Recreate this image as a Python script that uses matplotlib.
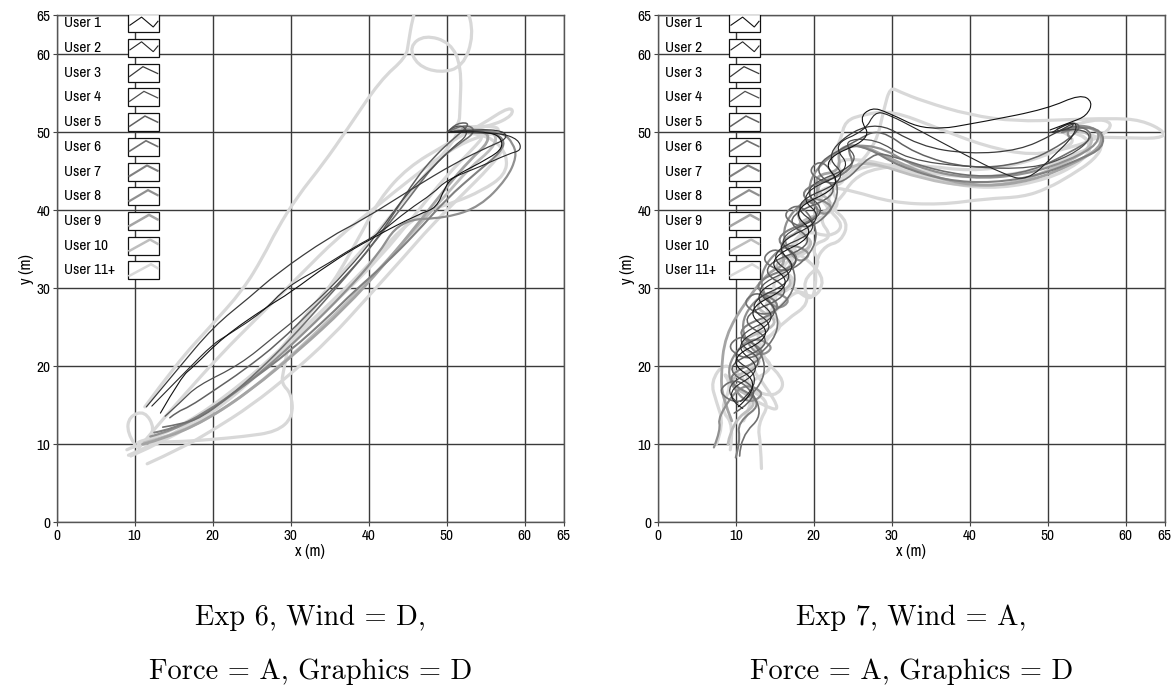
import numpy as np
import matplotlib
matplotlib.use("Agg")
import matplotlib.pyplot as plt
from matplotlib.path import Path
from matplotlib.patches import PathPatch, Rectangle
from matplotlib.lines import Line2D

# ---- Exp 6 trajectories (x, y in metres) ----
e6_u1 = [(13.3, 14.0), (16.0, 18.7), (17.5, 19.9), (21.4, 23.8), (26.9, 27.6), (29.9, 29.4), (35.0, 33.2),
         (40.5, 36.5), (46.6, 39.6), (48.7, 40.3), (49.8, 43.0), (50.8, 44.3), (55.5, 46.7), (57.2, 48.0),
         (56.9, 49.4), (55.5, 50.0), (52.5, 50.1), (50.2, 50.0)]
e6_u2 = [(12.2, 14.9), (16.7, 19.5), (20.1, 22.9), (21.6, 23.8), (26.5, 27.0), (29.5, 30.2), (34.2, 32.8),
         (38.0, 35.2), (41.5, 37.1), (45.0, 40.0), (48.3, 42.2), (50.0, 43.9), (54.3, 45.6), (58.1, 47.3),
         (59.6, 47.7), (59.2, 49.1), (56.9, 49.9), (54.3, 49.9), (50.4, 50.0)]
e6_u3 = [(11.5, 14.8), (15.4, 19.5), (20.1, 25.1), (24.8, 28.9), (28.2, 31.9), (35.0, 36.6), (39.3, 38.8),
         (45.3, 42.6), (51.3, 46.2), (55.5, 48.2), (57.8, 49.2), (57.3, 50.2), (54.0, 50.4), (50.5, 50.1)]
e6_u4 = [(13.9, 13.6), (16.0, 15.5), (18.0, 17.5), (23.5, 20.2), (28.0, 23.9), (32.6, 27.6), (37.2, 32.2),
         (41.3, 37.2), (45.0, 42.3), (48.2, 45.5), (50.9, 48.2), (52.7, 49.6), (52.3, 50.8), (50.9, 50.8),
         (50.0, 50.0)]
e6_u5 = [(14.5, 13.4), (15.5, 14.2), (17.0, 14.8), (20.0, 16.8), (24.0, 19.5), (28.5, 23.0), (33.0, 27.5),
         (37.0, 31.5), (40.5, 35.5), (43.5, 40.0), (46.0, 44.0), (48.5, 47.0), (51.0, 49.3), (52.8, 50.8),
         (52.5, 51.3), (51.0, 51.0), (50.3, 50.2)]
e6_u6 = [(13.6, 12.2), (16.0, 12.6), (18.5, 13.4), (22.0, 16.0), (26.0, 19.5), (30.0, 23.5), (34.0, 28.0),
         (38.0, 32.5), (42.0, 37.5), (45.5, 42.0), (48.5, 46.0), (51.5, 48.5), (53.5, 49.8), (53.3, 50.8),
         (51.5, 50.8), (50.3, 50.1)]
e6_u7 = [(12.5, 11.5), (15.0, 12.0), (19.0, 14.0), (24.0, 17.5), (30.0, 22.0), (35.0, 26.5), (38.0, 29.5),
         (42.0, 33.0), (46.0, 37.0), (50.0, 41.5), (54.0, 45.0), (57.0, 47.5), (57.5, 49.2), (55.0, 50.3),
         (51.5, 50.1)]
e6_u8 = [(12.0, 11.0), (15.0, 11.8), (20.0, 14.5), (26.0, 19.0), (32.0, 24.5), (37.0, 29.5), (41.0, 34.0),
         (44.0, 38.8), (50.0, 39.0), (54.3, 40.5), (57.7, 44.0), (59.0, 46.9), (58.5, 48.6), (57.3, 49.9),
         (54.0, 50.3), (51.0, 50.2)]
e6_u9 = [(11.0, 10.0), (14.0, 10.8), (19.0, 13.0), (25.0, 17.0), (31.0, 22.0), (37.0, 27.5), (42.0, 33.0),
         (46.5, 38.5), (50.0, 43.0), (53.0, 46.5), (55.5, 48.8), (55.0, 50.3), (52.0, 50.4)]
e6_u10 = [(11.2, 10.2), (16.0, 11.5), (22.0, 14.8), (28.0, 19.5), (34.0, 25.0), (40.0, 31.0), (45.0, 36.5),
          (49.5, 41.5), (53.0, 45.5), (56.0, 48.0), (56.5, 49.8), (54.0, 50.5), (51.5, 50.3)]
e6_r1 = [(11.3, 14.8), (15.4, 20.4), (19.7, 25.1), (23.9, 29.8), (26.5, 34.1), (28.2, 37.5), (30.8, 41.7),
         (34.2, 46.0), (37.2, 50.3), (41.5, 56.7), (44.8, 59.6), (45.1, 61.5), (45.6, 64.5), (46.5, 67.5),
         (49.5, 68.5), (52.5, 66.5), (53.5, 62.5), (52.1, 58.4), (49.1, 57.6), (46.2, 58.6), (45.2, 61.0),
         (47.2, 62.5), (50.5, 61.5), (51.9, 58.4), (51.7, 52.8), (51.6, 51.0), (50.6, 50.2)]
e6_r2 = [(9.0, 9.3), (11.1, 10.3), (15.0, 10.3), (19.7, 10.6), (24.0, 11.0), (28.2, 11.6), (30.3, 13.5),
         (30.1, 16.5), (28.8, 17.8), (29.1, 19.5), (29.9, 23.8), (33.0, 28.0), (37.0, 32.5), (41.0, 37.0),
         (45.0, 42.0), (48.5, 46.0), (51.0, 49.0), (51.5, 50.5), (50.5, 50.2)]
e6_r3 = [(10.0, 10.0), (9.0, 11.5), (9.3, 13.6), (11.3, 14.3), (12.6, 12.0), (11.5, 10.3), (10.0, 10.2),
         (13.0, 11.0), (18.0, 13.5), (24.0, 18.0), (30.0, 23.0), (36.0, 28.5), (41.5, 34.0), (46.0, 39.5),
         (50.0, 44.5), (53.5, 48.0), (55.0, 49.8), (53.0, 50.3)]
e6_r4 = [(11.6, 7.5), (16.0, 9.5), (20.0, 11.8), (25.0, 15.0), (30.0, 19.0), (35.0, 23.5), (40.0, 29.0),
         (44.5, 34.0), (48.0, 38.0), (52.0, 42.0), (55.5, 45.5), (57.5, 48.0), (56.5, 50.0), (53.0, 50.5),
         (51.0, 50.2)]
e6_r5 = [(9.5, 8.5), (14.0, 10.5), (20.0, 14.0), (26.0, 19.0), (31.0, 25.0), (35.0, 30.0), (38.5, 36.0),
         (41.4, 41.5), (45.0, 45.5), (50.0, 48.5), (54.5, 51.0), (58.2, 53.4), (58.6, 52.2), (55.5, 50.7),
         (52.0, 50.2)]
e6_r6 = [(10.5, 9.5), (13.0, 12.5), (16.5, 16.5), (21.0, 21.5), (26.0, 26.5), (31.0, 31.5), (36.0, 36.5),
         (41.0, 40.5), (46.0, 44.5), (50.0, 47.5), (54.0, 49.5), (57.0, 50.0), (56.0, 51.0), (52.0, 50.6)]
e6_r7 = [(9.2, 8.6), (12.0, 9.8), (17.0, 12.5), (23.0, 17.0), (29.0, 22.5), (35.0, 28.0), (40.5, 33.5),
         (44.0, 37.5), (47.5, 40.0), (51.0, 41.0), (54.5, 42.5), (57.5, 44.5), (57.8, 47.0), (56.0, 49.2),
         (53.0, 50.0), (50.8, 50.1)]

# ---- Exp 7 trajectories ----
e7_u1 = [(10.3, 14.8), (13.6, 17.6), (8.6, 20.8), (15.1, 24.0), (10.9, 27.2), (17.6, 30.4), (13.6, 33.6),
         (20.6, 36.8), (16.8, 40.0), (23.9, 43.2), (20.8, 46.4), (27.5, 49.2), (25.8, 51.8), (27.4, 53.2),
         (29.4, 52.6), (34.5, 50.1), (42.0, 51.4), (49.9, 53.0), (54.2, 54.9), (55.8, 53.9), (55.0, 52.1),
         (53.0, 51.3), (50.3, 50.3)]
e7_u2 = [(10.9, 14.6), (8.0, 16.4), (13.8, 19.6), (9.3, 22.8), (15.8, 26.0), (11.7, 29.2), (18.4, 32.4),
         (14.6, 35.6), (21.6, 38.8), (17.7, 42.0), (25.1, 45.2), (22.3, 48.4), (26.6, 50.2), (27.8, 52.6),
         (29.4, 52.4), (34.0, 50.0), (39.6, 47.0), (44.0, 44.8), (47.3, 43.7), (50.7, 46.9), (53.4, 49.6),
         (53.8, 51.3), (52.2, 51.0), (50.6, 50.0)]
e7_u3 = [(10.6, 15.5), (13.9, 18.4), (8.5, 21.6), (15.7, 24.8), (10.9, 28.0), (18.2, 31.2), (13.7, 34.4),
         (21.3, 37.6), (16.8, 40.8), (24.7, 44.0), (21.1, 47.2), (27.5, 51.8), (33.6, 48.2), (40.0, 47.2),
         (46.4, 47.7), (50.7, 49.7), (53.6, 51.4), (52.8, 50.3), (50.3, 50.0)]
e7_u4 = [(10.3, 15.3), (7.8, 17.2), (14.3, 20.4), (9.2, 23.6), (16.4, 26.8), (11.7, 30.0), (19.1, 33.2),
         (14.7, 36.4), (22.2, 39.6), (18.0, 42.8), (26.2, 46.0), (23.5, 49.0), (28.0, 49.2), (32.0, 46.5),
         (40.0, 45.5), (48.0, 45.3), (53.0, 47.0), (55.8, 49.3), (54.2, 50.6), (51.2, 50.2)]
e7_u5 = [(9.8, 14.0), (14.1, 16.6), (7.8, 19.8), (15.4, 23.0), (9.8, 26.2), (17.9, 29.4), (12.4, 32.6),
         (20.8, 35.8), (15.6, 39.0), (24.0, 42.2), (19.3, 45.4), (25.5, 49.0), (28.5, 50.5), (33.0, 47.2),
         (40.0, 45.3), (47.0, 46.0), (52.0, 48.5), (54.5, 50.8), (52.8, 51.4), (51.2, 50.4)]
e7_u6 = [(10.5, 8.5), (10.6, 11.0), (13.8, 14.0), (10.55, 18.8), (7.3, 16.8), (10.9, 14.8), (14.5, 19.6),
         (11.4, 24.4), (8.5, 22.4), (12.3, 20.4), (16.2, 25.2), (13.3, 30.0), (10.5, 28.0), (14.4, 26.0),
         (18.4, 30.8), (15.6, 35.6), (12.9, 33.6), (17.0, 31.6), (21.1, 36.4), (18.4, 41.2), (15.6, 39.2),
         (19.7, 37.2), (23.8, 42.0), (21.3, 46.8), (18.9, 44.8), (23.3, 42.8), (27.5, 47.4), (30.0, 47.0),
         (36.0, 45.0), (42.0, 44.2), (48.0, 45.0), (53.0, 47.5), (55.8, 49.2), (55.0, 50.6), (52.5, 50.8),
         (51.3, 50.0)]
e7_u7 = [(10.0, 8.3), (10.6, 10.5), (10.2, 12.8), (13.8, 15.5), (7.8, 18.5), (15.0, 21.5), (9.0, 24.5),
         (17.0, 27.5), (11.2, 30.5), (19.4, 33.5), (14.0, 36.5), (22.0, 39.5), (17.2, 42.5), (25.6, 45.0),
         (24.0, 48.5), (27.0, 48.0), (31.0, 45.6), (37.0, 43.8), (43.0, 43.5), (49.0, 44.5), (54.0, 46.5),
         (57.2, 48.0), (57.0, 50.3), (54.0, 50.8), (51.8, 50.0)]
e7_u8 = [(7.2, 9.6), (8.1, 11.9), (7.7, 13.5), (10.8, 18.0), (14.0, 16.5), (11.2, 15.0), (8.4, 19.5),
         (11.7, 24.0), (15.2, 22.5), (12.7, 21.0), (10.2, 25.5), (13.8, 30.0), (17.4, 28.5), (14.9, 27.0),
         (12.6, 31.5), (16.3, 36.0), (20.0, 34.5), (17.8, 33.0), (15.5, 37.5), (19.2, 42.0), (22.9, 40.5),
         (20.8, 39.0), (18.8, 43.5), (23.0, 48.0), (28.0, 48.5), (33.0, 45.5), (40.0, 44.0), (47.0, 44.5),
         (53.0, 46.5), (56.5, 48.5), (56.5, 50.5), (53.5, 51.0), (52.2, 49.8), (53.0, 49.2)]
e7_u9 = [(9.5, 13.0), (8.3, 16.0), (8.1, 18.8), (8.6, 23.9), (11.4, 28.5), (14.3, 32.2), (16.5, 33.0),
         (15.5, 36.0), (18.8, 37.5), (17.5, 40.5), (20.8, 41.5), (20.0, 44.5), (23.5, 45.0), (23.0, 48.0),
         (26.0, 48.5), (30.0, 46.5), (36.0, 44.0), (42.0, 43.0), (48.0, 43.8), (53.0, 45.8), (56.8, 48.0),
         (57.0, 50.0), (54.0, 51.0), (52.0, 50.0)]
e7_u10 = [(9.0, 10.0), (9.5, 13.0), (13.4, 15.5), (8.0, 18.0), (14.4, 20.5), (9.4, 23.0), (16.4, 25.5),
          (11.4, 28.0), (18.4, 30.5), (13.8, 33.0), (21.0, 35.5), (16.6, 38.0), (23.4, 40.5), (19.4, 43.0),
          (25.5, 46.0), (28.0, 46.0), (34.0, 44.0), (40.0, 43.0), (46.0, 43.5), (51.0, 45.5), (55.0, 47.5),
          (56.0, 49.5), (53.5, 50.5), (51.5, 50.0)]
e7_r1 = [(13.3, 6.9), (13.2, 10.0), (12.8, 12.5), (14.5, 15.5), (10.8, 17.5), (15.5, 20.0), (11.3, 22.5),
         (16.8, 25.0), (12.7, 28.0), (18.4, 30.5), (15.2, 33.0), (20.4, 35.0), (17.2, 38.0), (22.8, 39.5),
         (19.8, 42.5), (24.6, 43.5), (22.4, 46.5), (27.0, 46.5), (32.0, 45.0), (38.0, 43.2), (44.0, 42.8),
         (50.0, 44.0), (54.0, 46.0), (55.8, 48.0), (54.5, 49.8), (52.0, 50.2)]
e7_r2 = [(9.3, 9.3), (9.8, 12.5), (8.0, 14.5), (9.5, 17.5), (8.2, 19.5), (11.0, 16.5), (13.5, 15.0),
         (15.8, 14.2), (13.8, 17.5), (11.8, 20.0), (13.5, 23.0), (16.5, 26.0), (19.5, 28.0), (18.5, 31.0),
         (21.0, 33.0), (19.5, 35.5), (22.5, 36.5), (20.5, 39.0), (23.5, 40.5), (22.0, 43.0), (25.0, 45.0),
         (28.0, 48.5), (29.0, 53.0), (29.8, 55.8), (31.0, 55.2), (34.0, 54.0), (40.0, 52.2), (46.0, 51.4),
         (52.0, 51.6), (58.0, 51.8), (62.0, 51.6), (65.2, 50.0), (64.4, 49.2), (60.0, 49.3), (55.5, 49.4)]
e7_r3 = [(7.5, 10.0), (8.5, 12.5), (7.5, 15.5), (6.8, 18.0), (8.5, 20.5), (10.5, 19.0), (12.0, 17.0),
         (15.0, 16.0), (16.5, 18.0), (13.5, 21.0), (12.5, 24.5), (15.5, 27.5), (18.0, 30.0), (20.0, 28.5),
         (21.5, 31.0), (19.5, 33.5), (17.0, 35.0), (19.0, 37.5), (22.0, 36.5), (24.0, 38.0), (21.5, 40.5),
         (22.5, 43.0), (25.5, 45.5), (30.0, 46.0), (36.0, 44.5), (42.0, 44.2), (48.0, 45.0), (53.0, 47.0),
         (56.0, 48.2), (54.5, 49.5)]
e7_r4 = [(11.0, 13.0), (12.5, 16.0), (11.0, 19.0), (13.5, 22.0), (12.5, 25.0), (15.5, 28.0), (14.5, 31.0),
         (17.5, 33.0), (17.0, 36.0), (20.0, 38.0), (20.5, 41.0), (22.0, 43.0), (25.0, 42.5), (30.0, 41.0),
         (36.2, 40.7), (42.2, 41.5), (46.8, 41.7), (50.0, 42.8), (53.0, 44.5), (56.0, 46.5), (57.2, 48.5),
         (55.5, 50.0), (53.0, 50.3)]
e7_r5 = [(22.0, 46.0), (23.5, 49.0), (24.0, 51.5), (26.5, 52.3), (30.0, 52.8), (36.0, 50.5), (42.0, 48.2),
         (48.0, 47.0), (53.0, 48.0), (57.0, 49.5), (58.5, 51.2), (56.0, 51.8), (53.0, 50.8)]
e7_r6 = [(17.5, 30.0), (19.5, 28.2), (20.3, 30.0), (20.2, 33.5), (21.5, 35.5), (23.5, 36.0), (24.5, 38.5),
         (22.0, 40.5), (23.5, 41.5), (25.0, 44.0), (28.0, 45.5), (34.0, 45.8), (40.0, 45.0), (46.0, 45.8),
         (51.0, 47.5), (54.0, 49.0), (52.0, 50.0)]

# user number -> trajectory (11 stands for "11+")
exp6_tracks = [(11, e6_r1), (11, e6_r2), (11, e6_r3), (11, e6_r4), (11, e6_r5), (11, e6_r6), (11, e6_r7),
               (10, e6_u10), (9, e6_u9), (8, e6_u8), (7, e6_u7), (6, e6_u6), (5, e6_u5), (4, e6_u4),
               (3, e6_u3), (2, e6_u2), (1, e6_u1)]
exp7_tracks = [(11, e7_r1), (11, e7_r2), (11, e7_r3), (11, e7_r4), (11, e7_r5), (11, e7_r6),
               (10, e7_u10), (9, e7_u9), (8, e7_u8), (7, e7_u7), (6, e7_u6), (5, e7_u5), (4, e7_u4),
               (3, e7_u3), (2, e7_u2), (1, e7_u1)]

user_labels = ["User 1", "User 2", "User 3", "User 4", "User 5", "User 6", "User 7", "User 8",
               "User 9", "User 10", "User 11+"]
ticks = [0, 10, 20, 30, 40, 50, 60, 65]
captions = [("Exp 6, Wind = D,", "Force = A, Graphics = D"),
            ("Exp 7, Wind = A,", "Force = A, Graphics = D")]

colors = ['#111111', '#262626', '#3b3b3b', '#4f4f4f', '#616161', '#707070',
          '#808080', '#909090', '#a4a4a4', '#bebebe', '#d8d8d8']
widths = [0.8, 0.8, 0.9, 0.9, 1.1, 1.2, 1.5, 1.6, 2.0, 2.0, 2.3]

plt.rcParams['font.family'] = ['Archivo Narrow', 'Liberation Sans', 'DejaVu Sans']


def smooth(pts):
    # quadratic B-spline through the recorded positions
    p = np.asarray(pts, float)
    verts, codes = [p[0]], [Path.MOVETO]
    n = len(p)
    for i in range(1, n - 1):
        end = p[n - 1] if i == n - 2 else (p[i] + p[i + 1]) / 2
        verts += [p[i], end]
        codes += [Path.CURVE3, Path.CURVE3]
    return Path(verts, codes)


def draw_legend(ax):
    top, step = 0.984, 0.0487
    bx, bw, bh = 0.140, 0.0623, 0.0355
    for i, lab in enumerate(user_labels):
        yc = top - i * step
        ax.text(0.0145, yc, lab, transform=ax.transAxes, fontsize=11,
                va='center', ha='left', zorder=6)
        ax.add_patch(Rectangle((bx, yc - bh / 2), bw, bh, transform=ax.transAxes,
                               facecolor='white', edgecolor='#111111', lw=0.9, zorder=6))
        peak = 0.42 + 0.032 * i if i > 1 else 0.42
        if i < 2:
            fx = [0.07, 0.44, 0.81, 0.96]
            fy = [0.40, 0.85, 0.30, 0.62]
        else:
            fx = [0.06, peak, 0.95]
            fy = [0.32 - 0.012 * i, 0.84, 0.42 + 0.02 * i]
        ax.add_line(Line2D([bx + f * bw for f in fx], [yc - bh / 2 + f * bh for f in fy],
                           transform=ax.transAxes, color=colors[i], lw=min(widths[i], 1.8),
                           zorder=7, solid_joinstyle='miter'))


fig = plt.figure(figsize=(11.76, 6.86), dpi=100)
lefts = [0.0482, 0.5593]
for k, tracks in enumerate([exp6_tracks, exp7_tracks]):
    ax = fig.add_axes([lefts[k], 0.2386, 0.4311, 0.7391])
    ax.set_xlim(0, 65)
    ax.set_ylim(0, 65)
    ax.set_xticks(ticks)
    ax.set_yticks(ticks)
    ax.grid(True, color='#3a3a3a', lw=1.0)
    ax.set_axisbelow(True)
    for s in ax.spines.values():
        s.set_color('#555555')
        s.set_linewidth(1.0)
    ax.tick_params(direction='out', length=3, width=0.8, color='#444444', pad=1.5,
                   labelsize=11)
    for user, pts in tracks:
        ax.add_patch(PathPatch(smooth(pts), fill=False, edgecolor=colors[user - 1],
                               lw=widths[user - 1], capstyle='round', joinstyle='round',
                               zorder=3))
    ax.set_xlabel('x (m)', fontsize=11.5, labelpad=1)
    ax.set_ylabel('y (m)', fontsize=11.5, labelpad=2)
    draw_legend(ax)
    xc = lefts[k] + 0.4311 / 2
    fig.text(xc, 0.0991, captions[k][0], family='cmr10', fontsize=20.5, ha='center', va='center')
    fig.text(xc, 0.0204, captions[k][1], family='cmr10', fontsize=20.5, ha='center', va='center')

fig.savefig('out.png', dpi=100)
